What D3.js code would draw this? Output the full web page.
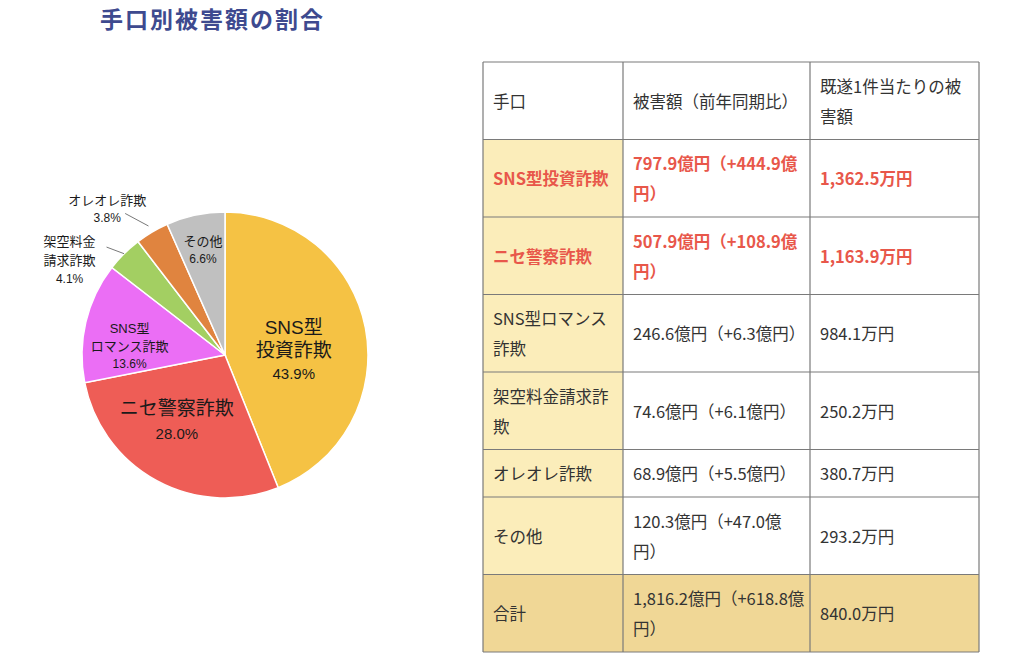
<!DOCTYPE html>
<html lang="ja">
<head>
<meta charset="utf-8">
<script src="https://cdn.jsdelivr.net/npm/d3@7"></script>
<style>
  html, body { margin: 0; padding: 0; background: #fff; }
  svg { display: block; }
</style>
</head>
<body>
<div id="chart"></div>
<script>
// ── Data ────────────────────────────────────────────────────────
const categories = ['SNS型投資詐欺', 'ニセ警察詐欺', 'SNS型ロマンス詐欺', '架空料金請求詐欺', 'オレオレ詐欺', 'その他'];
const pieLabels = [['SNS型', '投資詐欺'], ['ニセ警察詐欺'], ['SNS型', 'ロマンス詐欺'], ['架空料金', '請求詐欺'], ['オレオレ詐欺'], ['その他']];
const damage = [797.9, 507.9, 246.6, 74.6, 68.9, 120.3];      // 億円
const yoyChange = [444.9, 108.9, 6.3, 6.1, 5.5, 47.0];        // 億円
const perCase = [1362.5, 1163.9, 984.1, 250.2, 380.7, 293.2]; // 万円
const shares = [43.9, 28.0, 13.6, 4.1, 3.8, 6.6];             // %
const totalLabel = '合計';
const totalDamage = 1816.2;
const totalChange = 618.8;
const totalPerCase = 840.0;
const headers = ['手口', '被害額（前年同期比）', '既遂1件当たりの被害額'];
const highlighted = ['SNS型投資詐欺', 'ニセ警察詐欺'];

const sliceColors = ['#F5C244', '#EE5D56', '#EB6EF5', '#A3CF62', '#E0843F', '#C0C0C0'];

// ── Layout ──────────────────────────────────────────────────────
const W = 1024, H = 658;
const cx = 225, cy = 355, R = 143;

// label placement per slice: anchor radius, nudges, font sizes, optional leader
const labelLayout = [
  { r: 70, dx: 0, dy: 9, size: 19, pct: 15, lh: 23 },
  { r: 80, dx: -10, dy: -4, size: 19, pct: 15, lh: 25 },
  { r: 95, dx: -3, dy: 13, size: 13, pct: 12, lh: 18 },
  { r: 182, dx: -27, dy: 34, size: 13, pct: 12, lh: 19, leader: { r: 143, dx: 37, dy: -13 } },
  { r: 182, dx: -25, dy: 11, size: 13, pct: 12, lh: 18, leader: { r: 150, dx: 18, dy: 4 } },
  { r: 107, dx: 0, dy: 0, size: 13, pct: 12, lh: 18 },
];

const fmt1 = d3.format(',.1f');

const svg = d3.select('#chart').append('svg')
  .attr('width', W)
  .attr('height', H);

// ── Title ───────────────────────────────────────────────────────
svg.append('text')
  .attr('x', 100)
  .attr('y', 18)
  .attr('dominant-baseline', 'central')
  .attr('font-family', '"Noto Sans CJK JP", sans-serif')
  .attr('font-weight', 700)
  .attr('font-size', 23)
  .attr('letter-spacing', 2)
  .attr('fill', '#3E4A8F')
  .text('手口別被害額の割合');

// ── Pie ─────────────────────────────────────────────────────────
const pie = d3.pie().sort(null).value(d => d);
const arcs = pie(damage);
const arc = d3.arc().innerRadius(0).outerRadius(R);

const g = svg.append('g').attr('transform', `translate(${cx},${cy})`);

g.selectAll('path.slice')
  .data(arcs)
  .enter()
  .append('path')
  .attr('class', 'slice')
  .attr('d', arc)
  .attr('fill', (d, i) => sliceColors[i])
  .attr('stroke', '#fff')
  .attr('stroke-width', 1.5);

const polar = (a, r) => [Math.sin(a) * r, -Math.cos(a) * r];
const midAngle = d => (d.startAngle + d.endAngle) / 2;

arcs.forEach((d, i) => {
  const L = labelLayout[i];
  const [px, py] = polar(midAngle(d), L.r);
  const x = px + L.dx, y = py + L.dy;
  const lines = pieLabels[i];
  const n = lines.length + 1;
  const t = g.append('text')
    .attr('text-anchor', 'middle')
    .attr('font-family', '"Liberation Sans", "Noto Sans CJK JP", sans-serif')
    .attr('fill', '#1a1a1a');
  lines.forEach((s, k) => {
    t.append('tspan')
      .attr('x', x)
      .attr('y', y + (k - (n - 1) / 2) * L.lh)
      .attr('dominant-baseline', 'central')
      .attr('font-size', L.size)
      .text(s);
  });
  t.append('tspan')
    .attr('x', x)
    .attr('y', y + ((n - 1) - (n - 1) / 2) * L.lh)
    .attr('dominant-baseline', 'central')
    .attr('font-size', L.pct)
    .text(shares[i].toFixed(1) + '%');

  if (L.leader) {
    const [x1, y1] = polar(midAngle(d), L.leader.r);
    g.append('line')
      .attr('x1', x1).attr('y1', y1)
      .attr('x2', x + L.leader.dx).attr('y2', y + L.leader.dy)
      .attr('stroke', '#555')
      .attr('stroke-width', 0.8);
  }
});

// ── Table ───────────────────────────────────────────────────────
const colX = [483, 623, 810, 979];
const wrapW = [120, 176, 149];
const tableTop = 62;
const pad = 10, lineH = 30, vPad = 8.75;
const tableFont = '"Noto Sans CJK JP", sans-serif';
const fs = 16.5;

const rows = [
  { cells: headers, bg: ['#fff', '#fff', '#fff'], color: '#333', bold: false },
  ...categories.map((c, i) => ({
    cells: [c, `${fmt1(damage[i])}億円（+${fmt1(yoyChange[i])}億円）`, `${fmt1(perCase[i])}万円`],
    bg: ['#FBEDBA', '#fff', '#fff'],
    color: highlighted.includes(c) ? '#E8574A' : '#333',
    bold: highlighted.includes(c),
  })),
  {
    cells: [totalLabel, `${fmt1(totalDamage)}億円（+${fmt1(totalChange)}億円）`, `${fmt1(totalPerCase)}万円`],
    bg: ['#F0D796', '#F0D796', '#F0D796'],
    color: '#333',
    bold: false,
  },
];

const measurer = svg.append('text')
  .attr('font-family', tableFont)
  .attr('font-size', fs)
  .attr('visibility', 'hidden');

// greedy wrap; closing brackets may not start a line
function wrap(str, width, bold) {
  measurer.attr('font-weight', bold ? 700 : 400);
  const noStart = '）)、。';
  const out = [];
  let cur = '';
  for (const ch of Array.from(str)) {
    measurer.text(cur + ch);
    if (cur && measurer.node().getComputedTextLength() > width) {
      if (noStart.includes(ch) && cur.length > 1) {
        const chars = Array.from(cur);
        const last = chars.pop();
        out.push(chars.join(''));
        cur = last + ch;
      } else {
        out.push(cur);
        cur = ch;
      }
    } else {
      cur += ch;
    }
  }
  if (cur) out.push(cur);
  return out;
}

const tg = svg.append('g');
let y = tableTop;
rows.forEach(row => {
  const wrapped = row.cells.map((s, j) => wrap(s, wrapW[j], row.bold));
  const nLines = d3.max(wrapped, w => w.length);
  const h = 2 * vPad + nLines * lineH;
  wrapped.forEach((lines, j) => {
    tg.append('rect')
      .attr('x', colX[j]).attr('y', y)
      .attr('width', colX[j + 1] - colX[j]).attr('height', h)
      .attr('fill', row.bg[j]);
    const top = y + (h - lines.length * lineH) / 2;
    const t = tg.append('text')
      .attr('font-family', tableFont)
      .attr('font-size', fs)
      .attr('font-weight', row.bold ? 700 : 400)
      .attr('fill', row.color);
    lines.forEach((s, k) => {
      t.append('tspan')
        .attr('x', colX[j] + pad)
        .attr('y', top + lineH / 2 + k * lineH)
        .attr('dominant-baseline', 'central')
        .text(s);
    });
  });
  tg.append('line')
    .attr('x1', colX[0]).attr('x2', colX[3])
    .attr('y1', y).attr('y2', y)
    .attr('stroke', '#7a7a7a').attr('stroke-width', 1.2);
  y += h;
});
tg.append('line')
  .attr('x1', colX[0]).attr('x2', colX[3])
  .attr('y1', y).attr('y2', y)
  .attr('stroke', '#7a7a7a').attr('stroke-width', 1.2);
colX.forEach(x => {
  tg.append('line')
    .attr('x1', x).attr('x2', x)
    .attr('y1', tableTop).attr('y2', y)
    .attr('stroke', '#7a7a7a').attr('stroke-width', 1.2);
});
measurer.remove();
</script>
</body>
</html>
